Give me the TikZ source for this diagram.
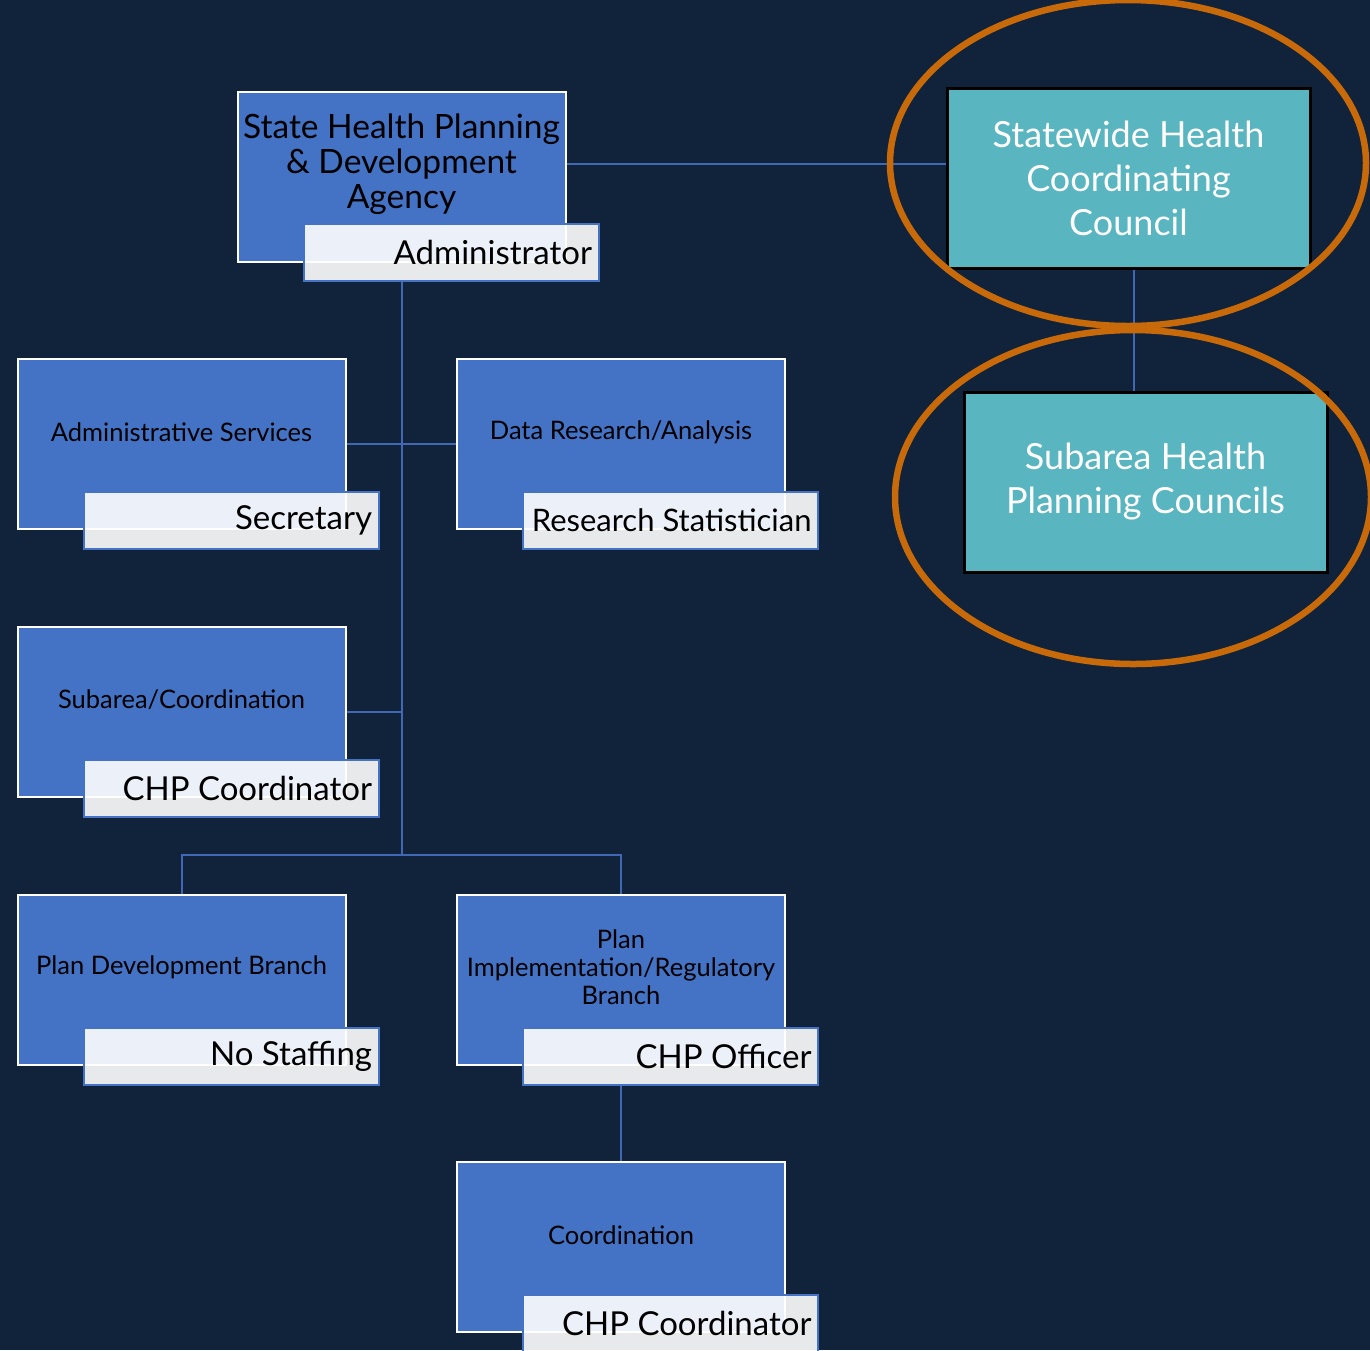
\documentclass[tikz,border=0pt]{standalone}
\usepackage{fontspec}
\setmainfont{Lato}
\usetikzlibrary{calc}
\definecolor{bgnavy}{HTML}{10233B}
\definecolor{unitblue}{HTML}{4472C4}
\definecolor{linkblue}{HTML}{4068B4}
\definecolor{councilteal}{HTML}{59B5BF}
\definecolor{ringorange}{HTML}{C96A0A}
\newcommand{\roletext}[1]{\makebox[282pt][r]{#1}}
\tikzset{
  unit/.style={rectangle, fill=unitblue, draw=white, line width=2pt,
    minimum width=328pt, minimum height=170pt, inner sep=0pt},
  unittext/.style={align=center, inner sep=0pt, font=\fontsize{25.5}{28}\selectfont, text=black},
  headtext/.style={align=center, inner sep=0pt, font=\fontsize{33.5}{35}\selectfont, text=black},
  rolebox/.style={rectangle, fill=white, fill opacity=0.9, text opacity=1,
    draw=unitblue, line width=2pt, minimum width=295pt, minimum height=57pt,
    inner sep=0pt, text=black, font=\fontsize{33}{36}\selectfont},
  council/.style={rectangle, fill=councilteal, draw=black, line width=3pt,
    minimum width=363pt, minimum height=180pt, inner sep=0pt, align=center,
    text=white, font=\fontsize{36}{44}\selectfont},
  link/.style={draw=linkblue, line width=2pt},
  ring/.style={draw=ringorange, line width=6.5pt}
}
\begin{document}
\begin{tikzpicture}[x=1pt, y=-1pt]
  \fill[bgnavy] (0,0) rectangle (1370,1350);
  \useasboundingbox (0,0) rectangle (1370,1350);

  % agency and its units
  \node[unit] (top) at (401.5,176.5) {};
  \node[headtext] (topT) at (401.5,164) {State Health Planning\\ \& Development\\ Agency};
  \node[rolebox] (toplab) at ($(top.south east)+(-115.5,-10)$) {\roletext{Administrator}};

  \node[unit] (adm) at (181.5,444) {};
  \node[unittext] (admT) at (181.5,432) {Administrative Services};
  \node[rolebox] (admlab) at ($(adm.south east)+(-115.5,-10)$) {\roletext{Secretary}};

  \node[unit] (dat) at (621,444) {};
  \node[unittext] (datT) at (621,432) {Data Research/Analysis};
  \node[rolebox, font=\fontsize{31}{36}\selectfont] (datlab) at ($(dat.south east)+(-115.5,-10)$) {\roletext{Research Statistician}};

  \node[unit] (sub) at (181.5,712) {};
  \node[unittext] (subT) at (181.5,700) {Subarea/Coordination};
  \node[rolebox] (sublab) at ($(sub.south east)+(-115.5,-10)$) {\roletext{CHP Coordinator}};

  \node[unit] (pdb) at (181.5,980) {};
  \node[unittext] (pdbT) at (181.5,967) {Plan Development Branch};
  \node[rolebox] (pdblab) at ($(pdb.south east)+(-115.5,-10)$) {\roletext{No Staffing}};

  \node[unit] (pib) at (621,980) {};
  \node[unittext] (pibT) at (621,967) {Plan\\ Implementation/Regulatory\\ Branch};
  \node[rolebox] (piblab) at ($(pib.south east)+(-115.5,-10)$) {\roletext{CHP Officer}};

  \node[unit] (coo) at (621,1247) {};
  \node[unittext] (cooT) at (621,1235) {Coordination};
  \node[rolebox] (coolab) at ($(coo.south east)+(-115.5,-10)$) {\roletext{CHP Coordinator}};

  % councils
  \node[council] (swhc) at (1128.5,178) {Statewide Health\\ Coordinating\\ Council};
  \node[council] (shpc) at (1145.5,482) {Subarea Health\\ Planning Councils};

  % connectors
  \coordinate (jn) at (401.5,855);
  \coordinate (cl) at (1134,330);
  \draw[link] (topT.east -| top.east) -- (topT.east -| swhc.west);
  \draw[link] (toplab.south -| jn) -- (jn);
  \draw[link] (adm.east) -- (dat.west);
  \draw[link] (sub.east) -- (sub.east -| jn);
  \draw[link] (pdb.north) |- (pib.north |- jn) -- (pib.north);
  \draw[link] (piblab.south -| pib.south) -- (coo.north);
  \draw[link] (swhc.south -| cl) -- (shpc.north -| cl);

  % highlight rings
  \draw[ring] (1128,163) ellipse [x radius=238pt, y radius=163pt];
  \draw[ring] (1133,497) ellipse [x radius=238pt, y radius=167pt];
\end{tikzpicture}
\end{document}
